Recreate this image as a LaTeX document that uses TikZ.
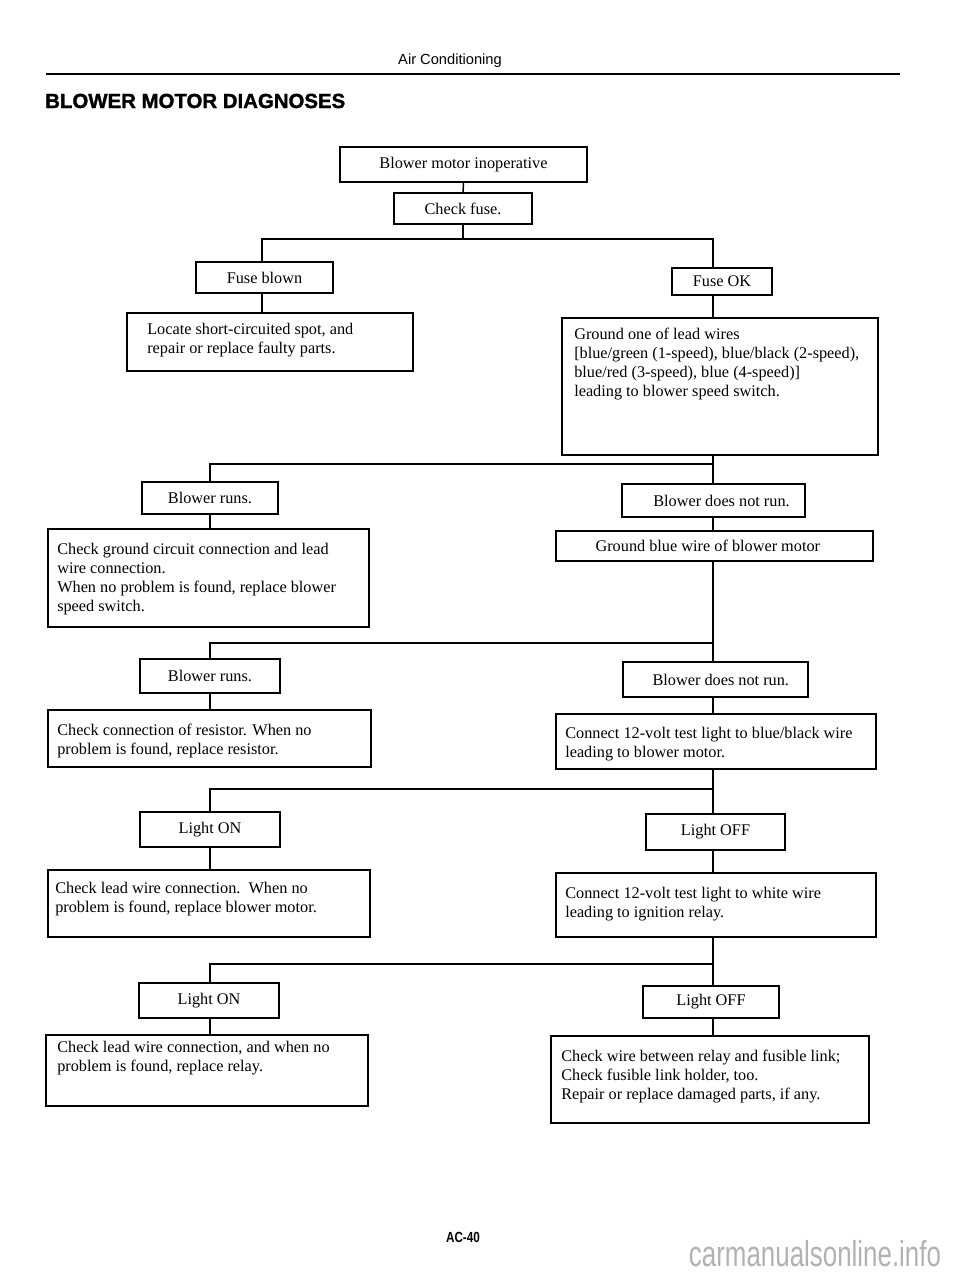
\documentclass[tikz,border=0pt]{standalone}
\usepackage{fontspec}
\setmainfont{Liberation Serif}
\newfontfamily\hdrfont{Liberation Sans}
\newfontfamily\ttlfont[FakeBold=1.5]{Liberation Sans Bold}
\newfontfamily\pgfontb{Liberation Sans Bold}
\usetikzlibrary{calc}
\newcommand\bodyfont{\fontsize{12.2}{14.25}\selectfont}
\tikzset{
  boxs/.style={draw, line width=1.1pt, inner sep=0pt, font=\bodyfont},
  txt/.style={anchor=north west, align=left, inner sep=0pt, font=\bodyfont},
  conn/.style={line width=1.1pt},
}
\newcommand\bx[6]{\node[boxs, minimum width={(#4-#2)*0.75pt}, minimum height={(#5-#3)*0.75pt}] (#1) at ({(#2+#4)/2},{(#3+#5)/2}) {#6};}
\begin{document}
\begin{tikzpicture}[x=0.75pt,y=-0.75pt]
\useasboundingbox[fill=white] (0,0) rectangle (960,1272);

% header
\node[font=\hdrfont\fontsize{11}{12}\selectfont, inner sep=0pt] (hdr) at (450,61) {Air Conditioning};
\draw[line width=2pt] (46,74) -- (900,74);
\node[anchor=base west, inner sep=0pt, font=\ttlfont\fontsize{15.3}{16}\selectfont] (ttl) at (45,108) {BLOWER MOTOR DIAGNOSES};

% boxes
\bx{A}{340}{147}{587}{182}{Blower motor inoperative}
\bx{B}{394}{193}{532}{224}{Check fuse.}
\bx{C}{196}{262}{333}{293}{Fuse blown}
\bx{D}{127}{313}{413}{371}{}
\bx{E}{672}{268}{772}{295}{Fuse OK}
\bx{F}{562}{318}{878}{455}{}
\bx{G}{142}{482}{278}{514}{Blower runs.}
\bx{H}{48}{529}{369}{627}{}
\bx{I}{622}{484}{805}{517}{\hspace*{12pt}Blower does not run.}
\bx{J}{556}{531}{873}{561}{Ground blue wire of blower motor\hspace*{10pt}}
\bx{K}{140}{659}{280}{693}{Blower runs.}
\bx{L}{48}{710}{371}{767}{}
\bx{M}{623}{662}{808}{697}{\hspace*{8pt}Blower does not run.}
\bx{N}{556}{714}{876}{769}{}
\bx{O}{140}{812}{280}{847}{Light ON}
\bx{P}{48}{870}{370}{937}{}
\bx{Q}{646}{814}{785}{850}{Light OFF}
\bx{R}{556}{873}{876}{937}{}
\bx{S}{139}{983}{279}{1018}{Light ON}
\bx{T}{46}{1035}{368}{1106}{}
\bx{U}{643}{986}{779}{1018}{Light OFF}
\bx{V}{551}{1036}{869}{1123}{}

% multi-line texts
\node[txt] (tD) at (147,{334-13.3}) {\strut Locate short-circuited spot, and\\repair or replace faulty parts.};
\node[txt] (tF) at (574,{339-13.3}) {\strut Ground one of lead wires\\{[}blue/green (1-speed), blue/black (2-speed),\\blue/red (3-speed), blue (4-speed)]\\leading to blower speed switch.};
\node[txt] (tH) at (57,{554-13.3}) {\strut Check ground circuit connection and lead\\wire connection.\\When no problem is found, replace blower\\speed switch.};
\node[txt] (tL) at (57,{735-13.3}) {\strut Check connection of resistor. When no\\problem is found, replace resistor.};
\node[txt] (tN) at (565,{738-13.3}) {\strut Connect 12-volt test light to blue/black wire\\leading to blower motor.};
\node[txt] (tP) at (55,{893-13.3}) {\strut Check lead wire connection.\ \ When no\\problem is found, replace blower motor.};
\node[txt] (tR) at (565,{898-13.3}) {\strut Connect 12-volt test light to white wire\\leading to ignition relay.};
\node[txt] (tT) at (57,{1052-13.3}) {\strut Check lead wire connection, and when no\\problem is found, replace relay.};
\node[txt] (tV) at (561,{1061-13.3}) {\strut Check wire between relay and fusible link;\\Check fusible link holder, too.\\Repair or replace damaged parts, if any.};

% junctions
\coordinate (l1) at (262,239); \coordinate (r1) at (713,239);
\coordinate (l2) at (210,464); \coordinate (r2) at (713,464);
\coordinate (l3) at (210,643); \coordinate (r3) at (713,643);
\coordinate (l4) at (210,789); \coordinate (r4) at (713,789);
\coordinate (l5) at (210,964); \coordinate (r5) at (713,964);

% connectors
\draw[conn] (A.south) -- (B.north);
\draw[conn] (B.south) -- (B.south |- l1);
\draw[conn] (l1 |- C.north) -- (l1) -- (r1) -- (r1 |- E.north);
\draw[conn] (l1 |- C.south) -- (l1 |- D.north);
\draw[conn] (r1 |- E.south) -- (r1 |- F.north);
\draw[conn] (r1 |- F.south) -- (r2);

\draw[conn] (l2 |- G.north) -- (l2) -- (r2) -- (r2 |- I.north);
\draw[conn] (l2 |- G.south) -- (l2 |- H.north);
\draw[conn] (r2 |- I.south) -- (r2 |- J.north);
\draw[conn] (r2 |- J.south) -- (r3);

\draw[conn] (l3 |- K.north) -- (l3) -- (r3) -- (r3 |- M.north);
\draw[conn] (l3 |- K.south) -- (l3 |- L.north);
\draw[conn] (r3 |- M.south) -- (r3 |- N.north);
\draw[conn] (r3 |- N.south) -- (r4);

\draw[conn] (l4 |- O.north) -- (l4) -- (r4) -- (r4 |- Q.north);
\draw[conn] (l4 |- O.south) -- (l4 |- P.north);
\draw[conn] (r4 |- Q.south) -- (r4 |- R.north);
\draw[conn] (r4 |- R.south) -- (r5);

\draw[conn] (l5 |- S.north) -- (l5) -- (r5) -- (r5 |- U.north);
\draw[conn] (l5 |- S.south) -- (l5 |- T.north);
\draw[conn] (r5 |- U.south) -- (r5 |- V.north);

% footer
\node[inner sep=0pt, font=\pgfontb\fontsize{11}{12}\selectfont] (pg) at (463,1237) {\scalebox{0.8}[1]{AC-40}};
\node[inner sep=0pt, text=gray!60, font=\hdrfont\fontsize{27}{30}\selectfont] (wm) at (815,1254) {\scalebox{0.72}[1]{carmanualsonline.info}};
\end{tikzpicture}
\end{document}
